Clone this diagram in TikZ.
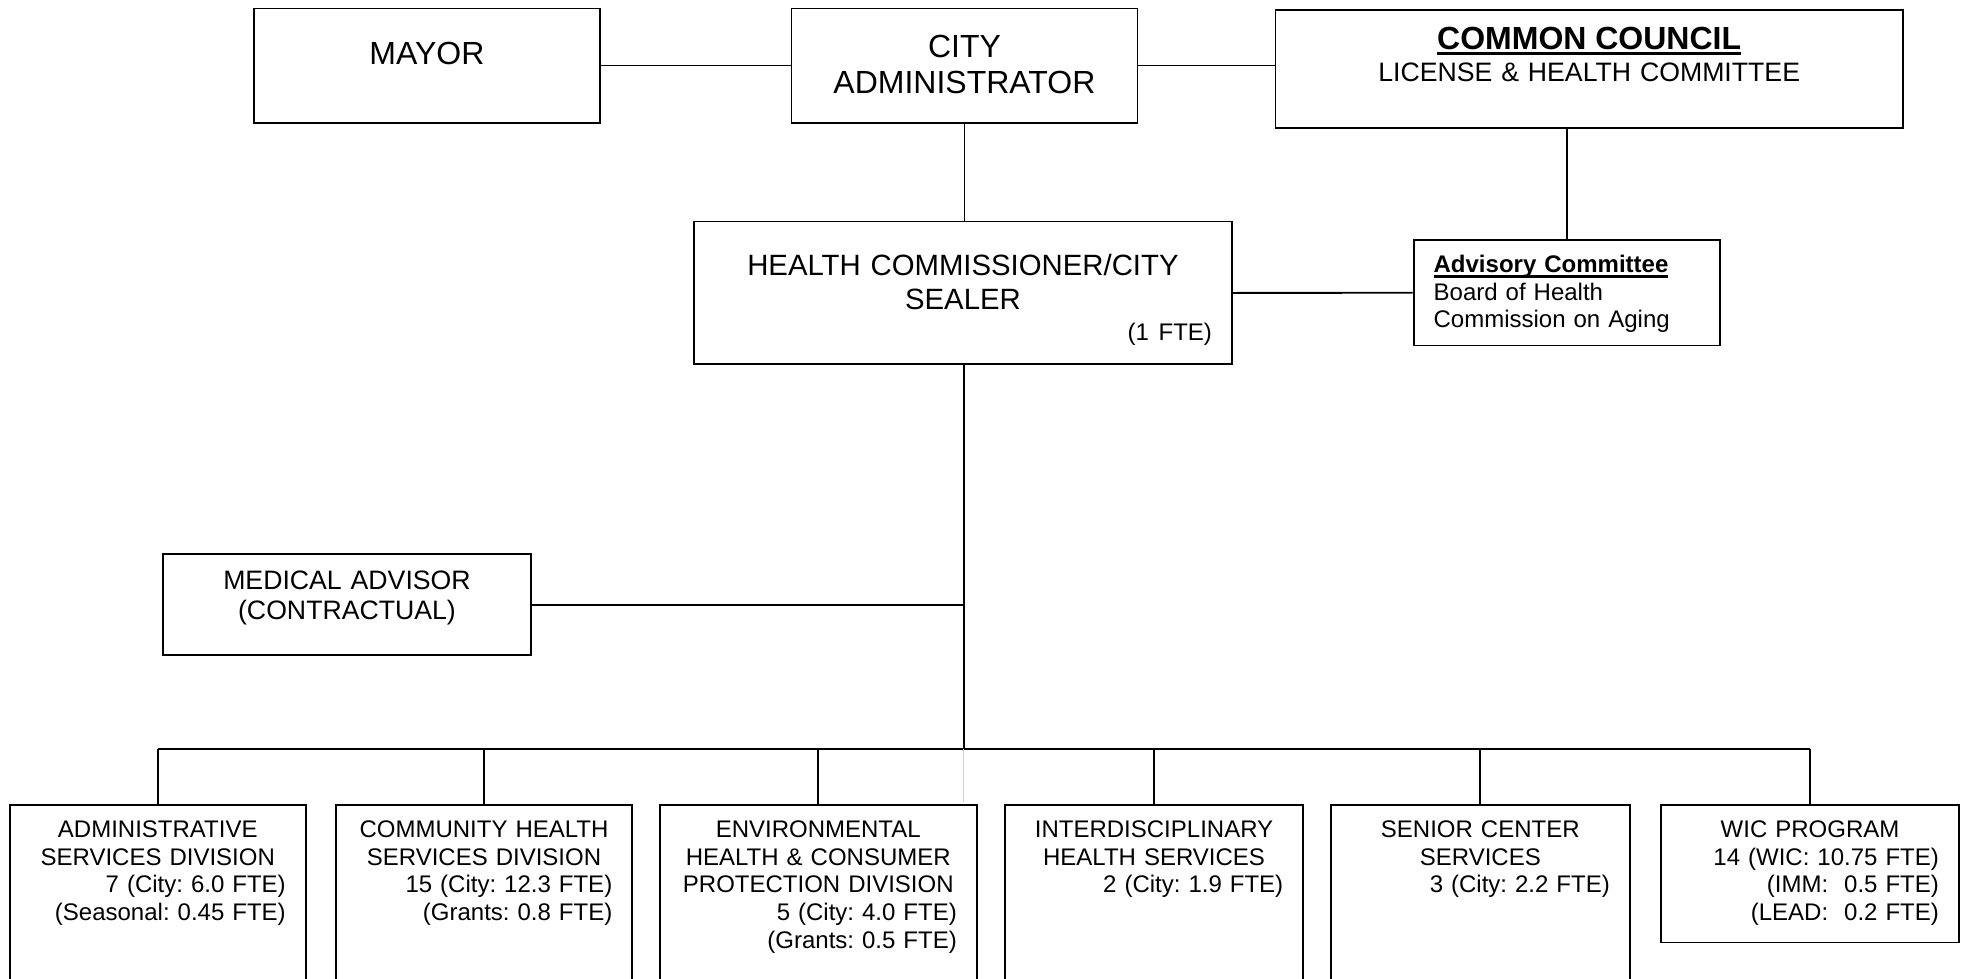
\documentclass[tikz,border=0pt]{standalone}
\usepackage{fontspec}
\setmainfont{Liberation Sans}
\frenchspacing
\newcommand{\flushr}[1]{\hspace*{0pt plus 1filll}#1}
\newcommand{\undl}[1]{\setbox0=\hbox{#1}\rlap{\rule[-2.25pt]{\wd0}{1.2pt}}\box0}

\begin{document}
\begin{tikzpicture}[%
      x=0.375pt, y=-0.375pt, line width=0.7pt,
      every node/.style={draw, anchor=north west, align=center,
                         inner xsep=7.5pt, inner ysep=0pt},
      big/.style={font=\fontsize{12}{13.5}\selectfont},
      mid/.style={font=\fontsize{11}{12.7}\selectfont},
      med/.style={font=\fontsize{10}{11.25}\selectfont},
      small/.style={font=\fontsize{9}{10.35}\selectfont},
      division/.style={small, text height=12.3pt, text depth=61.2pt}
    ]
    \useasboundingbox (0,0) rectangle (1965,978);
    \clip (0,0) rectangle (1965,978);
    \node [big, text width=114.75pt, text height=21pt, text depth=21.8pt]
     (mayor) at (253,7.5) {MAYOR};
    \node [big, text width=114.75pt, text height=18.5pt, text depth=24.3pt]
     (city admin) at (790.5,7.5) {CITY\\ADMINISTRATOR};
    \node [font=\fontsize{10}{12.3}\selectfont, text width=220.3pt,
           text height=14.6pt, text depth=29.4pt] (council) at (1274.5,9.3)
     {{\fontsize{12}{12.3}\selectfont\bfseries\undl{COMMON COUNCIL}}\\
      LICENSE \& HEALTH COMMITTEE};
    \node [mid, text width=186.75pt, text height=20.25pt, text depth=33.3pt]
     (commissioner) at (693,220.6)
     {HEALTH COMMISSIONER/CITY\\SEALER\\[-1pt]
      {\fontsize{9}{12.7}\selectfont\flushr{(1 FTE)}}};
    \node [small, align=left, text width=100pt, text height=12.2pt,
           text depth=27.4pt] (advisory) at (1412.7,239)
     {\textbf{\undl{Advisory Committee}}\\Board of Health\\Commission on Aging};
    \node [med, text width=123.2pt, text height=13.1pt, text depth=24.7pt]
     (medical) at (161.8,553.3) {MEDICAL ADVISOR\\(CONTRACTUAL)};

    % divisions
    \node [division, text width=96pt] (div admin) at (8.8,804)
     {ADMINISTRATIVE\\SERVICES DIVISION\\\flushr{7 (City: 6.0 FTE)}\\
      \flushr{(Seasonal: 0.45 FTE)}};
    \node [division, text width=96.2pt] (div community) at (334.8,804)
     {COMMUNITY HEALTH\\SERVICES DIVISION\\\flushr{15 (City: 12.3 FTE)}\\
      \flushr{(Grants: 0.8 FTE)}};
    \node [division, text width=103.9pt] (div env) at (658.8,804)
     {ENVIRONMENTAL\\HEALTH \& CONSUMER\\PROTECTION DIVISION\\
      \flushr{5 (City: 4.0 FTE)}\\\flushr{(Grants: 0.5 FTE)}};
    \node [division, text width=96.9pt] (div inter) at (1003.9,804)
     {INTERDISCIPLINARY\\HEALTH SERVICES\\\flushr{2 (City: 1.9 FTE)}};
    \node [division, text width=97.1pt] (div senior) at (1329.9,804)
     {SENIOR CENTER\\SERVICES\\\flushr{3 (City: 2.2 FTE)}};
    \node [division, text width=96.6pt, text depth=39.3pt] (div wic)
     at (1660.3,804)
     {WIC PROGRAM\\\flushr{14 (WIC: 10.75 FTE)}\\\flushr{(IMM:\ \ 0.5 FTE)}\\
      \flushr{(LEAD:\ \ 0.2 FTE)}};

    % lines
    \coordinate (bus) at (963.7,749);
    \coordinate (stub) at (963.7,802);
    \draw (mayor) -- (city admin);
    \draw (city admin.east) -- (city admin.east -| council.west);
    \draw (city admin.south) -- (city admin.south |- commissioner.north);
    \draw (advisory.north) -- (advisory.north |- council.south);
    \draw (commissioner.east) -- (advisory.west);
    \draw (commissioner.south -| bus) -- (bus);
    \draw (medical.east) -- (medical.east -| bus);
    \draw (div admin.north |- bus) -- (div wic.north |- bus);
    \foreach \d in {admin, community, env, inter, senior, wic}
     \draw (div \d.north) -- (div \d.north |- bus);
    \draw [gray!35, line width=0.5pt] (bus) -- (stub);
   \end{tikzpicture}
\end{document}
